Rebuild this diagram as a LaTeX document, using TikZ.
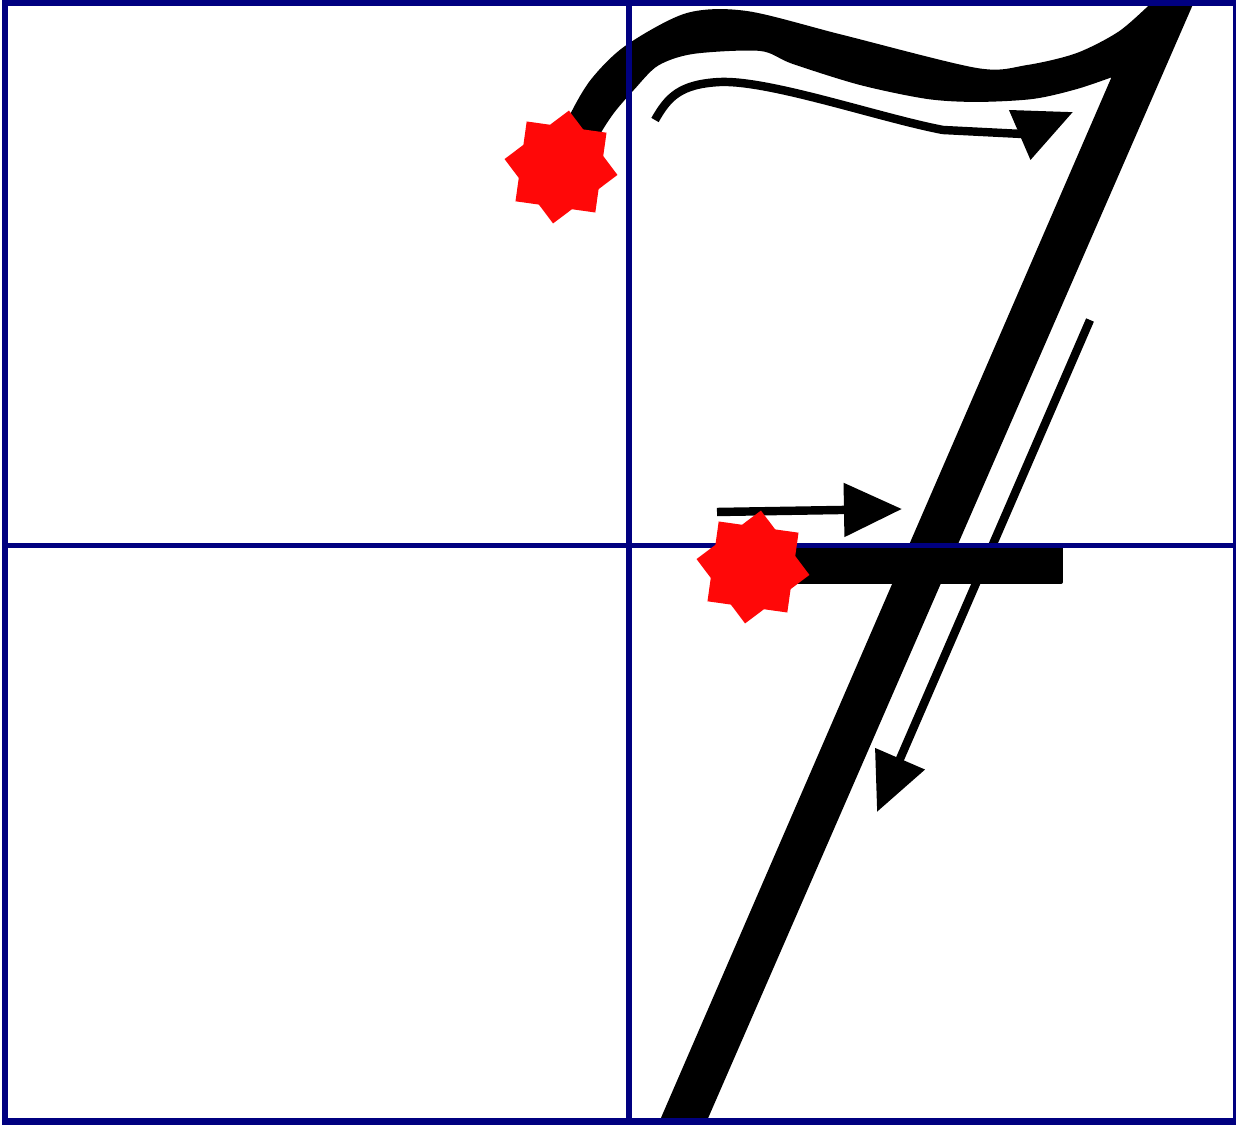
\documentclass[tikz,border=0pt]{standalone}
\usepackage{tikz}
\usetikzlibrary{arrows.meta,positioning}
\definecolor{GridNavy}{RGB}{0,0,128}
\definecolor{StartRed}{RGB}{255,8,8}
\tikzset{
  frame/.style={draw=GridNavy,line width=1.9pt},
  gridline/.style={draw=GridNavy,line width=1.55pt},
  ink/.style={fill=black,draw=black,line width=1.1pt,line join=round},
  guide/.style={draw=black,line width=2.4pt,-{Triangle[length=5.8mm,width=5.2mm]}},
  startpt/.pic={
    \fill[StartRed] (-82:57) -- (8:57) -- (98:57) -- (188:57) -- cycle
                    (-37:57) -- (53:57) -- (143:57) -- (233:57) -- cycle;
  },
}

\begin{document}
\begin{tikzpicture}[x=0.01cm,y=-0.01cm]
  \useasboundingbox (0,0) rectangle (1236,1125);
  % the numeral: top stroke and long diagonal
  \filldraw[ink] plot[smooth] coordinates {(558,150) (572,115) (593,80) (627,47)
      (687,15) (747,13) (843,37) (977,70) (1027,67) (1077,55) (1120,33) (1153,4)}
    -- (1191,4) -- (703,1125) -- (660,1125) -- (1115,74)
    -- plot[smooth] coordinates {(1115,74) (1077,87) (1033,97) (977,100) (927,97)
      (860,83) (793,62) (760,49) (693,52) (657,64) (633,88) (613,111) (598,134) (586,160)}
    -- cycle;
  % crossbar
  \fill[ink] (770,548) rectangle (1061,582);
  % writing directions
  \coordinate (topA) at (655,120);
  \coordinate (topB) at (1022,134);
  \coordinate (topC) at (1073,112);
  \draw[guide] (topA) .. controls (668,97) and (680,84) .. (720,82)
    .. controls (770,80) and (880,118) .. (943,130) -- (topB) -- (topC);
  \coordinate (barA) at (717,512);
  \coordinate (barB) at (902,509);
  \draw[guide] (barA) -- (barB);
  \coordinate (downA) at (1090,320);
  \coordinate (downB) at (877,812);
  \draw[guide] (downA) -- (downB);
  % grid
  \draw[gridline] (629,2.5) -- (629,1121.5);
  \draw[gridline] (5,545.5) -- (1236,545.5);
  \draw[frame] (5,2.5) rectangle (1236,1121.5);
  % start points
  \pic (start1) at (561,167) {startpt};
  \pic (start2) at (753,567) {startpt};
\end{tikzpicture}
\end{document}
